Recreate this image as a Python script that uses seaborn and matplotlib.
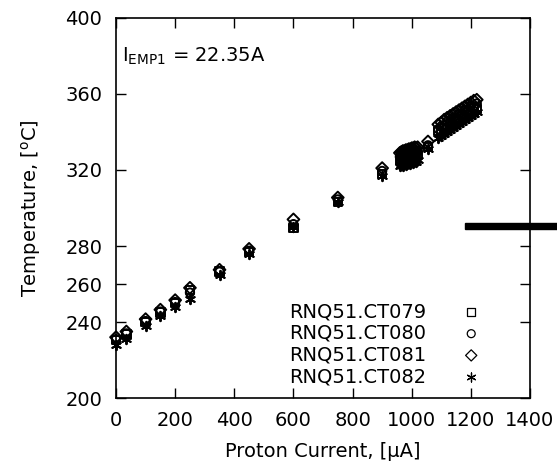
import matplotlib
matplotlib.use("Agg")
import matplotlib.pyplot as plt
import seaborn as sns
import pandas as pd
import numpy as np
from matplotlib.patches import Rectangle

sns.set_style("ticks")
plt.rcParams['font.family'] = ['DejaVu Sans']
plt.rcParams['mathtext.fontset'] = 'dejavusans'
for key in ['text.color', 'axes.labelcolor', 'xtick.color', 'ytick.color']:
    plt.rcParams[key] = 'black'

# proton current readings (shared by all four thermocouples)
current = [0, 35, 100, 150, 200, 250, 350, 450, 600, 750, 900,
           960, 965, 970, 975, 980, 985, 990, 995, 1000, 1005, 1010, 1015, 1020,
           1055,
           1090, 1100, 1110, 1120, 1130, 1140, 1150, 1160, 1170, 1180, 1190, 1200, 1210, 1220]

t_ct079 = [230.5, 233.5, 240, 245, 250, 257, 266.5, 277, 289.5, 303, 318,
           325, 324.5, 325.5, 325, 326, 325.5, 326.5, 326, 327, 326.5, 327.5, 327, 328,
           332,
           340.5, 339.5, 342, 341.5, 344, 343, 346, 345.5, 348.5, 347.5, 350.5, 349.5, 352.5, 352]
t_ct080 = [231, 234, 240.5, 245.5, 250.5, 255.5, 266.5, 277.5, 291.5, 304.5, 319.5,
           327, 327.5, 327.5, 328, 328, 328.5, 328.5, 329, 329, 329.5, 329.5, 330, 330,
           333,
           341.5, 343, 343.5, 345.5, 345.5, 347.5, 347.5, 349.5, 349.5, 351.5, 351.5, 353.5, 353.5, 355]
t_ct081 = [232, 235, 241.5, 246.5, 251.5, 258, 267.5, 278.5, 294, 305.5, 321,
           329, 329.5, 330, 330, 330.5, 330.5, 331, 331, 331.5, 331.5, 332, 331.5, 332,
           335,
           344, 345, 346.5, 347.5, 348.5, 349.5, 350.5, 351.5, 352.5, 353.5, 354.5, 355.5, 356.5, 357]
t_ct082 = [228, 231, 238, 243, 248, 252, 265, 276, 290, 303, 317,
           322, 322.5, 322, 323, 322.5, 323, 323.5, 323, 324, 323.5, 324.5, 324, 325,
           331,
           337, 338, 339, 340, 341, 342, 343, 344, 345.5, 346.5, 347.5, 348.5, 349.5, 350.5]

series_names = ["RNQ51.CT079", "RNQ51.CT080", "RNQ51.CT081", "RNQ51.CT082"]
series_temps = [t_ct079, t_ct080, t_ct081, t_ct082]
series_markers = ["s", "o", "D", (6, 2, 0)]

x_ticks = [0, 200, 400, 600, 800, 1000, 1200, 1400]
y_ticks = [200, 240, 260, 280, 320, 360, 400]

fig = plt.figure(figsize=(5.57, 4.66), dpi=100)
ax = fig.add_axes([0.2083, 0.1459, 0.7432, 0.8155])

for name, temps, mk in zip(series_names, series_temps, series_markers):
    df = pd.DataFrame({"current": current, "temp": temps})
    if mk == (6, 2, 0):
        sns.scatterplot(data=df, x="current", y="temp", marker=mk, s=46,
                        color="black", linewidth=1.4, ax=ax, label=name,
                        clip_on=False, zorder=3)
    else:
        sns.scatterplot(data=df, x="current", y="temp", marker=mk, s=36,
                        facecolor="none", edgecolor="black", linewidth=1.4,
                        ax=ax, label=name, clip_on=False, zorder=3)

ax.set_xlim(0, 1400)
ax.set_ylim(200, 400)
ax.set_xticks(x_ticks)
ax.set_yticks(y_ticks)
ax.tick_params(direction="in", top=True, right=True, length=7, width=1,
               labelsize=14)
ax.tick_params(axis="x", pad=9)
ax.tick_params(axis="y", pad=10)
for sp in ax.spines.values():
    sp.set_linewidth(1.2)
    sp.set_color("black")

ax.set_xlabel("Proton Current, [\u00b5A]", fontsize=14, labelpad=9)
ax.set_ylabel("Temperature, [$^\\mathrm{o}$C]", fontsize=14, labelpad=16)

ax.text(20, 377, "I$_\\mathrm{EMP1}$ = 22.35A", fontsize=14, va="baseline")

leg = ax.legend(loc="lower right", bbox_to_anchor=(0.905, 0.031), frameon=False,
                markerfirst=False, fontsize=14, handlelength=2, handletextpad=1.3,
                borderpad=0, borderaxespad=0, labelspacing=0.14, markerscale=0.95)
for h in leg.legend_handles:
    h.set_linewidth(0.9)

# stray bar from the source figure
fig.add_artist(Rectangle((0.835, 0.5086), 0.165, 0.0129, color="black",
                         transform=fig.transFigure))

fig.savefig("out.png", dpi=100)
